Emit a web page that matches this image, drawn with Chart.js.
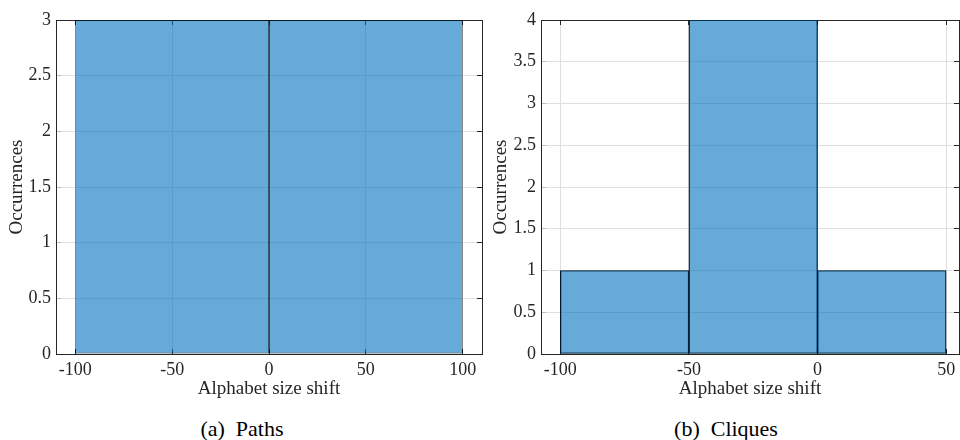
<!DOCTYPE html>
<html><head><meta charset="utf-8">
<script src="https://cdn.jsdelivr.net/npm/chart.js@4.4.0/dist/chart.umd.min.js"></script>
<style>
html,body{margin:0;padding:0;background:#fff;width:960px;height:440px;overflow:hidden;}
canvas{position:absolute;top:0;}
.cap{position:absolute;top:418px;font-family:"Liberation Serif",serif;font-size:22px;line-height:22px;color:#000;white-space:pre;transform:translateX(-50%);}
</style></head><body>
<canvas id="c1" width="490" height="400" style="left:0"></canvas>
<canvas id="c2" width="476" height="400" style="left:484px"></canvas>
<div class="cap" style="left:242px">(a)  Paths</div>
<div class="cap" style="left:726px">(b)  Cliques</div>
<script>
// ---- data ----
const pathsBinEdges = [-100, 0, 100];
const pathsCounts = [3, 3];
const pathsXTicks = [-100, -50, 0, 50, 100];
const pathsXRange = [-110, 110];
const pathsYMax = 3;

const cliquesBinEdges = [-100, -50, 0, 50];
const cliquesCounts = [1, 4, 1];
const cliquesXTicks = [-100, -50, 0, 50];
const cliquesXRange = [-107.5, 55];
const cliquesYMax = 4;

const yStep = 0.5;
const xTitle = 'Alphabet size shift';
const yTitle = 'Occurrences';

// ---- styles ----
const INK = '#262626';
const GRID = '#dfdfdf';
const FACE = 'rgba(0,114,189,0.6)';
const FAM = '"Liberation Serif", "Times New Roman", serif';
const tickFont = {family: FAM, size: 18};
const titleFont = {family: FAM, size: 19};

function makeChart(id, edges, counts, xTicks, xRange, yMax, yWidth, padRight) {
  const centers = counts.map((c, i) => (edges[i] + edges[i + 1]) / 2);
  const binW = edges[1] - edges[0];
  const tickStep = xTicks[1] - xTicks[0];
  const catPct = binW / Math.min(binW, tickStep);
  const setTicks = vals => scale => { scale.ticks = vals.map(v => ({value: v})); };
  const fmt = v => String(v);
  return new Chart(document.getElementById(id), {
    type: 'bar',
    data: {
      datasets: [{
        data: centers.map((x, i) => ({x: x, y: counts[i]})),
        backgroundColor: FACE,
        borderColor: '#000',
        borderWidth: 0.7,
        borderSkipped: false,
        barPercentage: 1,
        categoryPercentage: catPct
      }]
    },
    options: {
      responsive: false,
      animation: false,
      events: [],
      layout: {padding: {top: 20, left: 0, right: padRight, bottom: 0}},
      plugins: {legend: {display: false}, tooltip: {enabled: false}},
      scales: {
        x: {
          type: 'linear', position: 'bottom', min: xRange[0], max: xRange[1], offset: false,
          afterBuildTicks: setTicks(xTicks),
          ticks: {color: INK, font: tickFont, padding: 10, maxRotation: 0, autoSkip: false, callback: fmt},
          grid: {color: GRID, tickColor: INK, tickLength: -5, drawTicks: true, offset: false},
          border: {color: INK, width: 1},
          title: {display: true, text: xTitle, color: INK, font: titleFont, padding: {top: 0, bottom: 0}},
          afterFit: s => { s.height = 46; s.paddingLeft = 0; s.paddingRight = 0; }
        },
        x2: {
          type: 'linear', axis: 'x', position: 'top', min: xRange[0], max: xRange[1], offset: false,
          afterBuildTicks: setTicks(xTicks),
          ticks: {display: false},
          grid: {drawOnChartArea: false, tickColor: INK, tickLength: -5, offset: false},
          border: {color: INK, width: 1},
          afterFit: s => { s.height = 0; s.paddingLeft = 0; s.paddingRight = 0; }
        },
        y: {
          type: 'linear', position: 'left', min: 0, max: yMax,
          ticks: {stepSize: yStep, color: INK, font: tickFont, padding: 10, callback: fmt},
          grid: {color: GRID, tickColor: '#bdbdbd', tickLength: -5, drawTicks: true},
          border: {color: INK, width: 1},
          title: {display: true, text: yTitle, color: INK, font: titleFont, padding: {top: 6, bottom: 0}},
          afterFit: s => { s.width = yWidth; s.paddingTop = 0; s.paddingBottom = 0; }
        },
        y2: {
          type: 'linear', axis: 'y', position: 'right', min: 0, max: yMax,
          ticks: {display: false, stepSize: yStep},
          grid: {drawOnChartArea: false, tickColor: INK, tickLength: -5},
          border: {color: INK, width: 1},
          afterFit: s => { s.width = 0; s.paddingTop = 0; s.paddingBottom = 0; }
        }
      }
    }
  });
}

makeChart('c1', pathsBinEdges, pathsCounts, pathsXTicks, pathsXRange, pathsYMax, 56, 8);
makeChart('c2', cliquesBinEdges, cliquesCounts, cliquesXTicks, cliquesXRange, cliquesYMax, 57, 1);
</script>
</body></html>
